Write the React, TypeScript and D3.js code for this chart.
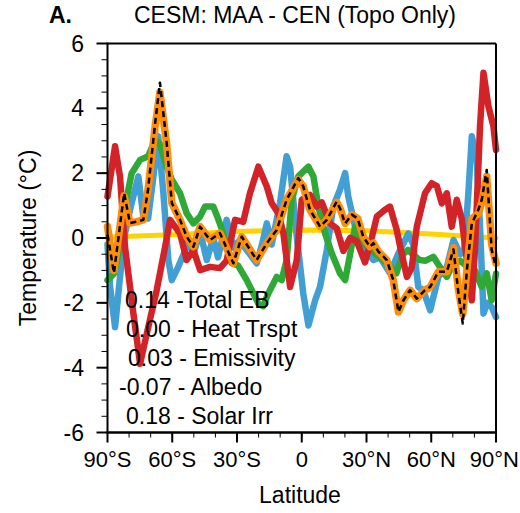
import React from "react";
import * as d3 from "d3";

// ---- data (latitude in degrees, value in °C) ----
const totalLat = [-90, -87, -82.3, -79.6, -76.8, -73.4, -71.2, -68, -65.7, -62.6, -60.2, -56.4, -53.3, -50.2, -47.1, -42.5, -37.9, -31.7, -27.8, -20.9, -16.2, -11.6, -7, -1.6, 0.7, 3.8, 8.5, 11.6, 16.2, 17.8, 20.1, 23.2, 25.9, 28.5, 31.6, 33.2, 35.5, 39.4, 42.4, 44.8, 47.1, 50.2, 53.3, 57.1, 59.5, 63.3, 67.2, 70.3, 72.6, 74.6, 76.5, 78.8, 81.8, 83.4, 85.7, 88, 90];
const totalVal = [0.1, -1.08, 1.38, 0.46, 0.5, 0.56, 1.5, 3.5, 4.79, 2.94, 1.08, 0.56, 0.04, -0.27, 0.35, -0.06, 0.15, -0.78, 0.04, -0.68, -0.16, 0.25, 1.18, 1.85, 1.59, 0.87, 0.35, 0.56, 1.12, 0.9, 0.45, 0.72, 0.6, 0.04, -0.27, -0.16, -0.42, -0.68, -1.3, -2.28, -1.92, -1.61, -1.87, -1.61, -1.51, -1.04, -1.04, -0.35, -1.71, -2.64, -1.0, 0.45, 0.87, 1.18, 2.1, -0.37, -0.89];
const modelVal = [0.35, -1.0, 1.3, 0.46, 0.5, 0.56, 1.5, 3.4, 4.5, 2.9, 1.08, 0.56, 0.04, -0.27, 0.35, -0.06, 0.15, -0.78, 0.04, -0.68, -0.16, 0.25, 1.18, 1.8, 1.59, 0.87, 0.35, 0.56, 1.1, 0.9, 0.45, 0.72, 0.6, 0.04, -0.27, -0.16, -0.42, -0.68, -1.3, -2.28, -1.92, -1.61, -1.87, -1.61, -1.51, -1.04, -1.04, -0.3, -1.6, -2.35, -1.0, 0.6, 0.75, 1.1, 1.9, -0.2, -0.78];

const heatLat = [-90, -86.5, -84.2, -81.9, -78, -74.9, -71.8, -67.2, -63.3, -61, -56.4, -53.3, -50.2, -47.1, -42.5, -37.9, -34.8, -30.9, -27.1, -24, -20.1, -16.2, -13.9, -10.8, -8.5, -5.4, -2.3, 0, 3.8, 6.9, 9.3, 13.1, 16.2, 19.3, 22.4, 25.5, 29.3, 32.4, 34.8, 38.6, 40.9, 44, 45.6, 48.7, 51, 53.3, 57.1, 60.2, 62.6, 64.9, 67.2, 69.5, 71.8, 74.1, 76.5, 78.8, 80.3, 82.6, 84.2, 86.5, 88.8, 90];
const heatVal = [1.28, 2.83, 1.9, -0.27, -2.33, -3.88, -2.95, -1.61, -0.27, 0.56, 0.14, -0.68, -0.37, -0.99, -0.89, -0.93, -0.7, 0.56, 0.5, 1.38, 2.2, 1.59, 1.07, 0.76, 0.14, -1.51, -0.68, 1.18, 1.33, 0.97, 1.1, 0.45, 0.3, -0.4, 0.0, -0.1, -0.75, 0.0, 0.66, 0.87, 0.97, 0.25, -0.27, -1.2, -0.9, 0.35, 1.38, 1.69, 1.6, 1.07, 1.38, 0.35, 1.18, 0.6, -0.68, -1.92, -0.3, 3.45, 5.1, 4.06, 3.45, 2.72];

const emisLat = [-90, -87, -84.2, -81.9, -78.8, -74.9, -71.1, -68, -65.7, -62.6, -60.2, -56.4, -53.3, -50.2, -47.1, -44.8, -41, -38.8, -36.3, -32.4, -29.5, -25.5, -20.1, -17.9, -15.5, -11.6, -9.3, -7, -4.6, -1.6, 3.1, 5.4, 7.7, 10.8, 13.9, 17.7, 20.1, 22.4, 24.7, 28, 31.6, 35.3, 39, 43.8, 46.9, 49.2, 52.3, 54.6, 57.4, 61, 64.1, 67.2, 70.1, 73.4, 77, 80.3, 83.4, 85.7, 88, 90];
const emisVal = [-1.3, -1.1, -0.27, 0.97, 2.0, 2.41, 2.52, 3.03, 2.9, 2.2, 1.8, 1.38, 0.76, 0.45, 0.66, 0.97, 0.97, 0.6, 0.14, -0.78, -0.85, -1.3, -2.02, -2.1, -1.71, -1.2, -1.3, -0.68, 1.18, 1.9, 2.2, 1.9, 0.97, 0.14, -0.47, -1.09, -1.3, -0.5, 0.35, -0.1, -0.35, -0.55, -0.75, -1.09, -0.5, -0.37, -0.55, -0.68, -0.7, -0.58, -0.9, -1.2, -0.8, -0.7, -0.9, -1.0, -1.51, -1.09, -1.92, -1.1];

const albLat = [-90, -88.8, -86.5, -84.2, -81.9, -79.1, -75.7, -73.4, -71.2, -68.9, -66.5, -64.1, -61.8, -60.2, -57.2, -54.1, -53.3, -50.2, -47.1, -44, -41, -38.8, -34.8, -31.7, -28.6, -26.3, -20.9, -18.4, -16.2, -13.9, -10.1, -7, -5.4, -2.3, 0.7, 3.1, 6.2, 8.5, 11.6, 14.6, 17.7, 20.1, 21.5, 24.7, 28.5, 33.2, 36.3, 40.9, 44.6, 49.4, 51.6, 54, 56.2, 59.5, 63.3, 67.2, 70.3, 73.4, 75.2, 77.2, 78.8, 81.1, 82.6, 84.2, 85.9, 88, 90];
const albVal = [-0.2, -1.5, -2.75, -1.2, 0.14, 1.0, 1.9, 0.66, 0.6, 1.8, 3.14, 1.38, -0.68, -1.3, -0.89, -0.4, 0.04, -0.5, 0.2, -0.68, 0.0, -0.6, 0.56, -0.3, -0.06, -0.3, -0.78, -0.2, 0.45, -0.2, 1.07, 2.52, 2.2, 0.04, -1.71, -2.7, -1.92, -1.5, -0.37, 0.97, 1.49, 2.0, 1.3, 0.35, -0.27, -0.68, -0.6, -1.09, -0.5, 0.14, -0.2, -1.51, -1.6, -2.23, -1.2, -0.9, -0.06, -0.5, -0.4, 1.38, 3.14, 2.41, 0.35, -2.33, -2.0, -2.13, -2.44];

const solarLat = [-90, -60, -30, 0, 30, 60, 90];
const solarVal = [0.03, 0.1, 0.2, 0.25, 0.22, 0.12, 0.0];

const legendLines = ["0.14 -Total EB", "0.00 - Heat Trspt", "0.03 - Emissivity", "-0.07 - Albedo", "0.18 - Solar Irr"];
const xTickVals = [-90, -60, -30, 0, 30, 60, 90];
const xTickLabels = ["90°S", "60°S", "30°S", "0", "30°N", "60°N", "90°N"];
const yTickVals = [-6, -4, -2, 0, 2, 4, 6];

const FONT = "'Liberation Sans', Arial, Helvetica, sans-serif";

export default function App() {
  const W = 520, H = 513;
  const left = 107.5, right = 496, top = 43.5, bottom = 432.5;
  const x = d3.scaleLinear().domain([-90, 90]).range([left, right]);
  const y = d3.scaleLinear().domain([-6, 6]).range([bottom, top]);

  const mk = (lats: number[], vals: number[]) =>
    d3.line<number>().x((_, i) => x(lats[i])).y((v) => y(v)).curve(d3.curveLinear)(vals) || "";

  const minorX = d3.range(-90, 91, 10);
  const minorY = d3.range(-6, 6.01, 0.5);

  const series = [
    { d: mk(solarLat, solarVal), c: "#ffd200", w: 5 },
    { d: mk(albLat, albVal), c: "#419fd3", w: 6.5 },
    { d: mk(emisLat, emisVal), c: "#30a838", w: 6.5 },
    { d: mk(heatLat, heatVal), c: "#d22428", w: 6.5 },
    { d: mk(totalLat, modelVal), c: "#ff8c0a", w: 7.5 },
  ];

  const fs = 23;
  const tickFs = 22;

  return (
    <svg width={W} height={H} style={{ display: "block", position: "absolute", left: 0, top: 0, background: "#fff" }} fontFamily={FONT}>
      <rect x={0} y={0} width={W} height={H} fill="#fff" />
      {/* title */}
      <text x={49} y={23} fontSize={fs} fontWeight="bold" fill="#000">A.</text>
      <text x={295} y={23} fontSize={fs} textAnchor="middle" fill="#000">CESM: MAA - CEN (Topo Only)</text>

      {/* lines */}
      {series.map((s, i) => (
        <path key={i} d={s.d} fill="none" stroke={s.c} strokeWidth={s.w} strokeLinejoin="round" strokeLinecap="round" />
      ))}
      <path d={mk(totalLat, totalVal)} fill="none" stroke="#000" strokeWidth={2.5} strokeDasharray="6,4" strokeLinejoin="round" />

      {/* frame */}
      <line x1={left} x2={right} y1={top} y2={top} stroke="#000" strokeWidth={2} />
      <line x1={right} x2={right} y1={top} y2={bottom} stroke="#000" strokeWidth={2} />
      <line x1={left} x2={left} y1={top - 1} y2={bottom + 1} stroke="#000" strokeWidth={2} />
      <line x1={left - 1} x2={right + 1} y1={bottom} y2={bottom} stroke="#000" strokeWidth={2.5} />

      {/* y ticks */}
      {minorY.map((v, i) => (
        <line key={"my" + i} x1={left - 6} x2={left} y1={y(v)} y2={y(v)} stroke="#000" strokeWidth={1} />
      ))}
      {yTickVals.map((v) => (
        <g key={"y" + v}>
          <line x1={left - 11} x2={left} y1={y(v)} y2={y(v)} stroke="#000" strokeWidth={2} />
          <text x={84} y={y(v)} dy="0.35em" fontSize={fs} textAnchor="end" fill="#000">{v}</text>
        </g>
      ))}

      {/* x ticks */}
      {minorX.map((v, i) => (
        <line key={"mx" + i} x1={x(v)} x2={x(v)} y1={bottom} y2={bottom + 5} stroke="#000" strokeWidth={1} />
      ))}
      {xTickVals.map((v, i) => {
        const last = i === xTickVals.length - 1;
        return (
          <g key={"x" + v}>
            <line x1={x(v)} x2={x(v)} y1={bottom} y2={bottom + 10} stroke="#000" strokeWidth={2} />
            <text x={last ? W - 1 : x(v)} y={467} fontSize={tickFs} textAnchor={last ? "end" : "middle"} fill="#000">{xTickLabels[i]}</text>
          </g>
        );
      })}

      {/* axis titles */}
      <text x={300} y={503} fontSize={fs} textAnchor="middle" fill="#000">Latitude</text>
      <text transform={`translate(36,238) rotate(-90)`} fontSize={fs} textAnchor="middle" fill="#000">Temperature (°C)</text>

      {/* legend text */}
      {legendLines.map((t, i) => (
        <text key={t} x={[125, 126, 128, 119, 126][i]} y={308 + i * 29} fontSize={fs} fill="#000">{t}</text>
      ))}
    </svg>
  );
}
